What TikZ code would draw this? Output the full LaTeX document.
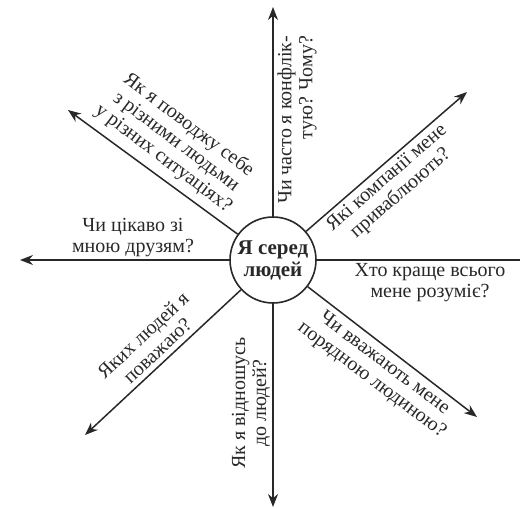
\documentclass[tikz,border=0pt]{standalone}
\usepackage{fontspec}
\setmainfont{Liberation Serif}
\usetikzlibrary{arrows.meta}
\definecolor{ink}{RGB}{40,40,40}
\tikzstyle{hub}=[circle,draw=ink,fill=white,line width=0.8pt,inner sep=0pt,
  minimum size=43pt,align=center,font=\fontsize{10.5}{11}\selectfont\bfseries,text=ink]
\tikzstyle{spoke}=[draw=ink,line width=0.75pt]
\tikzstyle{ray}=[spoke,-{Stealth[length=6.5pt,width=5pt]}]
\tikzstyle{txt}=[align=center,inner sep=0pt,
  font=\fontsize{10}{10.5}\selectfont,text=ink]

\begin{document}
\begin{tikzpicture}[x=0.5pt,y=-0.5pt]
    \useasboundingbox (0,0) rectangle (520,509);
    \node [style=hub] (me) at (273,260) {Я серед\\людей};
    \coordinate (n) at (273,7);
    \coordinate (s) at (273,507);
    \coordinate (w) at (20,260);
    \coordinate (e) at (520,260);
    \coordinate (nw) at (68,110);
    \coordinate (ne) at (467,92);
    \coordinate (sw) at (85,435);
    \coordinate (se) at (477,417);
    \draw [style=ray] (me) to (n);
    \draw [style=ray] (me) to (s);
    \draw [style=ray] (me) to (w);
    \draw [style=spoke] (me) to (e);
    \draw [style=ray] (me) to (nw);
    \draw [style=ray] (me) to (ne);
    \draw [style=ray] (me) to (sw);
    \draw [style=ray] (me) to (se);
    \node [style=txt,rotate=-37] (qnw) at (176,142) {Як я поводжу себе\\з різними людьми\\у різних ситуаціях?};
    \node [style=txt,rotate=90,align=right] (qn) at (297,120) {Чи часто я конфлік-\\тую? Чому?};
    \node [style=txt,rotate=41] (qne) at (394,186) {Які компанії мене\\приваблюють?};
    \node [style=txt] (qw) at (133,238) {Чи цікаво зі\\мною друзям?};
    \node [style=txt] (qe) at (430,283) {Хто краще всього\\мене розуміє?};
    \node [style=txt,rotate=-37] (qse) at (378,372) {Чи вважають мене\\порядною людиною?};
    \node [style=txt,rotate=43] (qsw) at (150,343) {Яких людей я\\поважаю?};
    \node [style=txt,rotate=90] (qs) at (251,403) {Як я відношусь\\до людей?};
\end{tikzpicture}
\end{document}
